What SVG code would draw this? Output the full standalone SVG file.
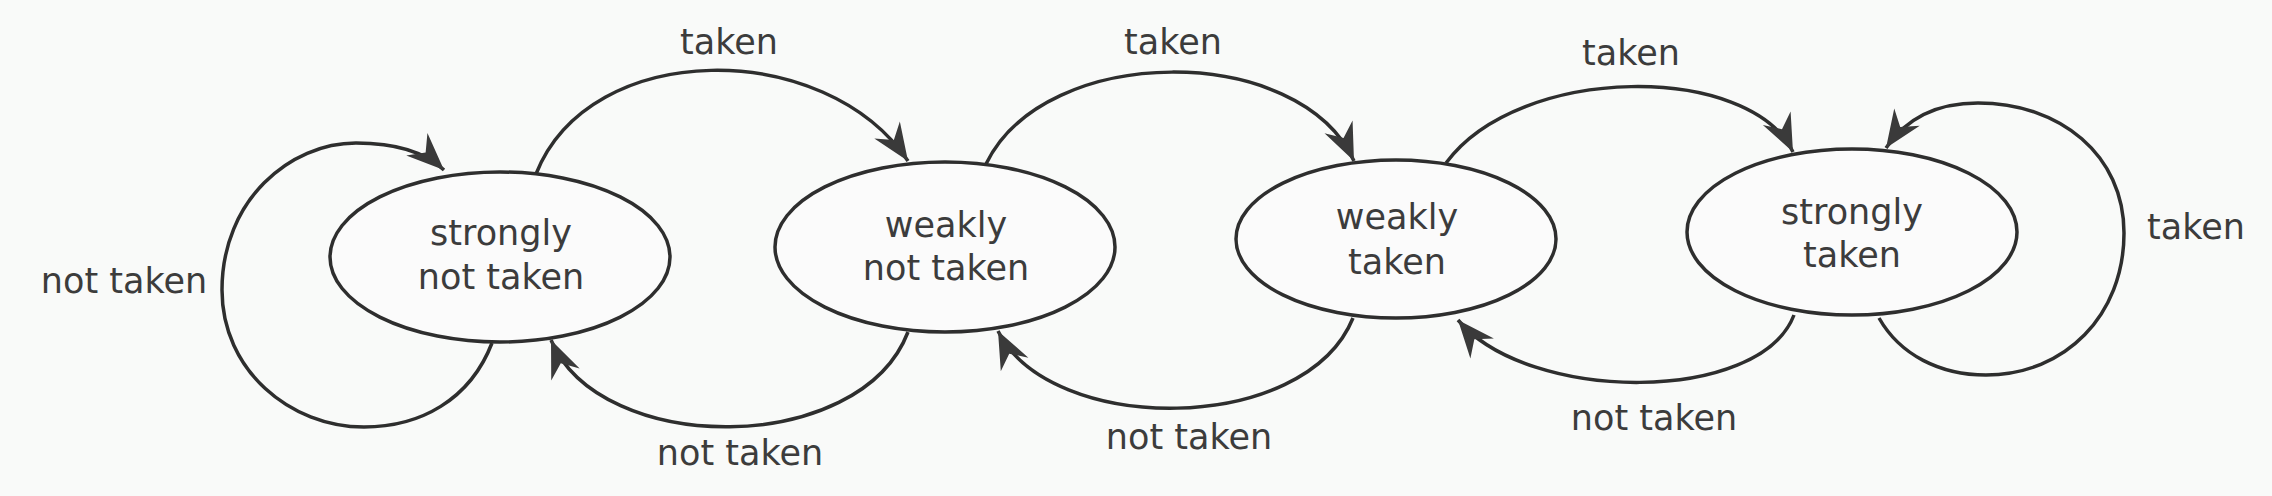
<svg xmlns="http://www.w3.org/2000/svg" width="2272" height="496" viewBox="0 0 2272 496">
<style>
.st{fill:none;stroke:#2e2e2e;stroke-width:3.5}
.nd{fill:#fbfbfb;stroke:#2e2e2e;stroke-width:3.5}
text{font-family:"DejaVu Sans","Liberation Sans",sans-serif;font-size:35px;fill:#3c3c3c;text-anchor:middle}
</style>
<defs>
<marker id="ah" markerUnits="userSpaceOnUse" markerWidth="44" markerHeight="40" viewBox="-36 -16 40 32" refX="0" refY="0" orient="auto">
<path d="M0,0 L-34,-14 L-23,0 L-34,14 Z" fill="#3a3a3a"/>
</marker>
</defs>
<rect width="2272" height="496" fill="#f9faf9"/>
<g id="connectors">
<path class="st" marker-end="url(#ah)" d="M492,343 C470,400 420,427 364,427 C290,427 222,370 222,290 C222,200 290,143 356,143 C395,143 425,152 444,170"/>
<path class="st" marker-end="url(#ah)" d="M536,174 C590,38 825,38 908,161"/>
<path class="st" marker-end="url(#ah)" d="M908,332 C860,457 600,457 551,340"/>
<path class="st" marker-end="url(#ah)" d="M986,164 C1045,42 1300,42 1354,161"/>
<path class="st" marker-end="url(#ah)" d="M1353,318 C1305,436 1050,436 998,331"/>
<path class="st" marker-end="url(#ah)" d="M1446,163 C1520,63 1750,63 1793,152"/>
<path class="st" marker-end="url(#ah)" d="M1794,315 C1760,404 1529,404 1458,320"/>
<path class="st" marker-end="url(#ah)" d="M1879,318 C1900,355 1940,375 1986,375 C2065,375 2124,315 2124,233 C2124,155 2060,103 1978,103 C1935,103 1905,120 1886,148"/>
<text x="124" y="293">not taken</text>
<text x="729" y="54">taken</text>
<text x="740" y="465">not taken</text>
<text x="1173" y="54">taken</text>
<text x="1189" y="449">not taken</text>
<text x="1631" y="65">taken</text>
<text x="1654" y="430">not taken</text>
<text x="2196" y="239">taken</text>
</g>
<g id="snt">
<ellipse class="nd" cx="500" cy="257" rx="170" ry="85"/>
<text x="501" y="245">strongly</text>
<text x="501" y="289">not taken</text>
</g>
<g id="wnt">
<ellipse class="nd" cx="945" cy="247" rx="170" ry="85"/>
<text x="946" y="237">weakly</text>
<text x="946" y="280">not taken</text>
</g>
<g id="wt">
<ellipse class="nd" cx="1396" cy="239" rx="160" ry="79"/>
<text x="1397" y="229">weakly</text>
<text x="1397" y="274">taken</text>
</g>
<g id="st">
<ellipse class="nd" cx="1852" cy="232" rx="165" ry="83"/>
<text x="1852" y="224">strongly</text>
<text x="1852" y="267">taken</text>
</g>
</svg>
